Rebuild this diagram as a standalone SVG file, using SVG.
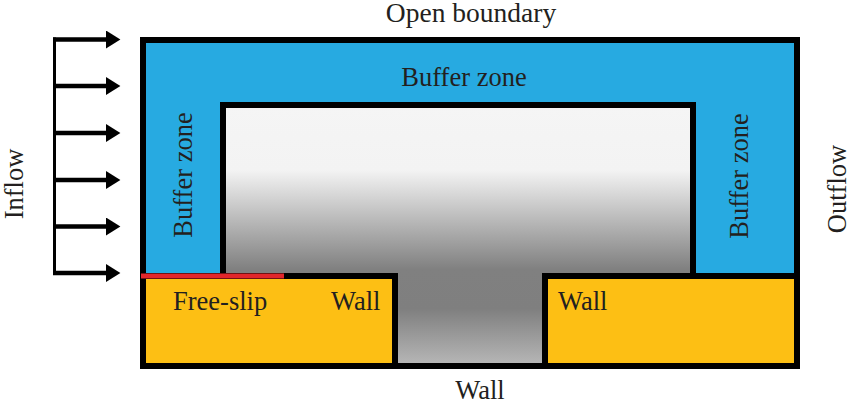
<svg xmlns="http://www.w3.org/2000/svg" width="850" height="404" viewBox="0 0 850 404">
<defs>
<linearGradient id="g" gradientUnits="userSpaceOnUse" x1="0" y1="105" x2="0" y2="366">
<stop offset="0" stop-color="#f5f5f5"/>
<stop offset="0.25" stop-color="#f3f3f3"/>
<stop offset="0.63" stop-color="#808080"/>
<stop offset="0.78" stop-color="#7f7f7f"/>
<stop offset="1" stop-color="#b8b8b8"/>
</linearGradient>
<marker id="ah" markerWidth="4" markerHeight="4" refX="0" refY="2" orient="auto" markerUnits="strokeWidth">
<path d="M0,0 L3.2,2 L0,4 Z" fill="#000"/>
</marker>
<style>
text{font-family:"Liberation Serif","Times New Roman",serif;font-size:26.5px;fill:#231f20}
.b{stroke:#000;stroke-width:6;stroke-linejoin:miter}
.c{text-anchor:middle}
</style>
</defs>
<g id="domain">
<rect class="b" x="143" y="40" width="654" height="326" fill="#27aae1"/>
</g>
<g id="fluid">
<path class="b" d="M223,105 H693 V276 H545 V366 H395 V276 H223 Z" fill="url(#g)"/>
</g>
<g id="wall-left">
<rect class="b" x="143" y="276" width="252" height="90" fill="#fdbf14"/>
<text x="173" y="310">Free-slip</text>
<text x="331" y="310">Wall</text>
</g>
<g id="wall-right">
<rect class="b" x="545" y="276" width="252" height="90" fill="#fdbf14"/>
<text x="558" y="310">Wall</text>
</g>
<g id="free-slip-line">
<line x1="141" y1="276" x2="284" y2="276" stroke="#e2262b" stroke-width="5"/>
</g>
<g id="labels">
<text class="c" x="471" y="22" style="font-size:27.5px">Open boundary</text>
<text class="c" x="464" y="86">Buffer zone</text>
<text class="c" transform="translate(192,175) rotate(-90)">Buffer zone</text>
<text class="c" transform="translate(748,176) rotate(-90)">Buffer zone</text>
<text class="c" transform="translate(23,184) rotate(-90)">Inflow</text>
<text class="c" transform="translate(846,189) rotate(-90)">Outflow</text>
<text class="c" x="480" y="399">Wall</text>
</g>
<g id="connectors" stroke="#000" fill="none">
<line x1="54.5" y1="37.5" x2="54.5" y2="275" stroke-width="3"/>
<g stroke-width="4.5" marker-end="url(#ah)">
<line x1="53" y1="39.5" x2="106" y2="39.5"/>
<line x1="53" y1="86" x2="106" y2="86"/>
<line x1="53" y1="133" x2="106" y2="133"/>
<line x1="53" y1="180" x2="106" y2="180"/>
<line x1="53" y1="226.5" x2="106" y2="226.5"/>
<line x1="53" y1="273" x2="106" y2="273"/>
</g>
</g>
</svg>
